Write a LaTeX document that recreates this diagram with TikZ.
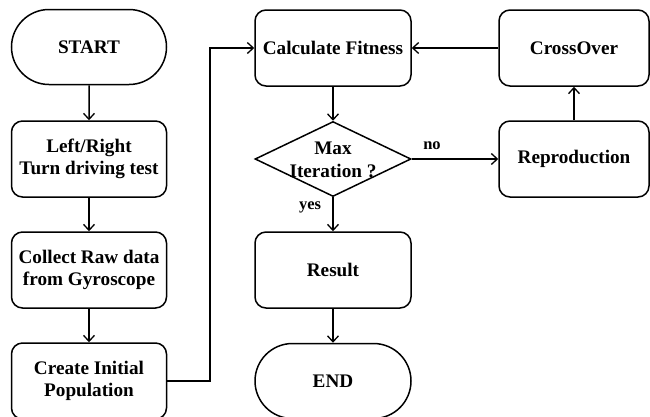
\documentclass[tikz,border=0pt]{standalone}
\usepackage{fontspec}
\setmainfont{Liberation Serif}
\usetikzlibrary{shapes.geometric,shapes.misc,arrows.meta}
\begin{document}
\begin{tikzpicture}[x=1pt,y=-1pt,
  base/.style={draw, line width=1.5pt, align=center, inner sep=0pt,
    font=\fontsize{19.2}{22.5}\selectfont\bfseries},
  box/.style={base, rounded corners=11pt, minimum width=155pt, minimum height=76pt},
  term/.style={base, rounded rectangle, minimum width=155pt, minimum height=75pt},
  dec/.style={draw, line width=1.5pt, diamond, minimum width=156pt, minimum height=75pt, inner sep=0pt},
  lab/.style={font=\fontsize{16.5}{18}\selectfont\bfseries},
  arr/.style={line width=1.5pt, -{Straight Barb[length=6pt,width=11pt,line width=1.3pt]}}
]
\useasboundingbox (0,0) rectangle (650,416);
\fill[white] (0,0) rectangle (650,416);
\node[term] (start) at (89,47) {START};
\node[box] (lr) at (89,159) {Left/Right\\Turn driving test};
\node[box] (collect) at (89,270) {Collect Raw data\\from Gyroscope};
\node[box] (create) at (89,381) {Create Initial\\Population};
\node[box, minimum width=156pt] (calc) at (333,48) {Calculate Fitness};
\node[dec] (max) at (333,159) {};
\node[base, draw=none] (maxt) at (333,160) {Max\\Iteration ?};
\node[box, minimum width=156pt] (result) at (333,270) {Result};
\node[term, minimum width=156pt] (end) at (333,381) {END};
\node[box, minimum width=150pt] (cross) at (574,48) {CrossOver};
\node[box, minimum width=150pt] (repro) at (574,159) {Reproduction};
\coordinate (bend) at (210,381);
\draw[arr] (start) -- (lr);
\draw[arr] (lr) -- (collect);
\draw[arr] (collect) -- (create);
\draw[arr] (create.east) -- (bend) |- (calc.west);
\draw[arr] (calc) -- (max);
\draw[arr] (max.east) -- (repro.west);
\draw[arr] (repro) -- (cross);
\draw[arr] (cross) -- (calc);
\draw[arr] (max.south) -- (result);
\draw[arr] (result) -- (end);
\node[lab] (no) at (432,146) {no};
\node[lab] (yes) at (310,207) {yes};
\end{tikzpicture}
\end{document}
